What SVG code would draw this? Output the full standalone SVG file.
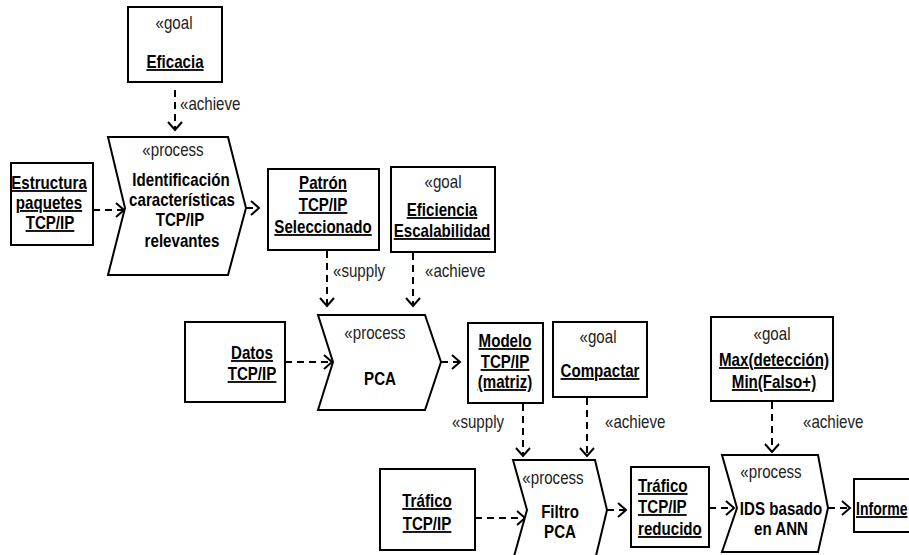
<svg xmlns="http://www.w3.org/2000/svg" width="909" height="555" viewBox="0 0 909 555">
<defs>
<style>
.box{fill:#fff;stroke:#000;stroke-width:2}
.proc{fill:#fff;stroke:#000;stroke-width:2;stroke-linejoin:miter}
text{font-family:"Liberation Sans",Arial,sans-serif;font-size:18px;fill:#000}
.b{font-weight:bold;text-anchor:middle}
.u{text-decoration:underline}
.s{font-weight:normal;fill:#222}
.m{text-anchor:middle}
.st{text-anchor:start}
.c{fill:none;stroke:#000;stroke-width:2;stroke-dasharray:7,5}
</style>
<marker id="ah" markerUnits="userSpaceOnUse" markerWidth="20" markerHeight="20" refX="10" refY="10" orient="auto">
<path d="M2,3 L10,10 L2,17" fill="none" stroke="#000" stroke-width="2"/>
</marker>
</defs>
<rect width="909" height="555" fill="#fff"/>

<g id="connectors">
<path class="c" d="M175,90 V130" marker-end="url(#ah)"/>
<path class="c" d="M93,210 H124" marker-end="url(#ah)"/>
<path class="c" d="M246,208 H259" marker-end="url(#ah)"/>
<path class="c" d="M327,251 V306" marker-end="url(#ah)"/>
<path class="c" d="M413,253 V306" marker-end="url(#ah)"/>
<path class="c" d="M285,362 H332" marker-end="url(#ah)"/>
<path class="c" d="M441,362 H460" marker-end="url(#ah)"/>
<path class="c" d="M523,404 V456" marker-end="url(#ah)"/>
<path class="c" d="M587,398 V456" marker-end="url(#ah)"/>
<path class="c" d="M475,518 H525" marker-end="url(#ah)"/>
<path class="c" d="M607,510 H626" marker-end="url(#ah)"/>
<path class="c" d="M709,508 H734" marker-end="url(#ah)"/>
<path class="c" d="M772,402 V452" marker-end="url(#ah)"/>
<path class="c" d="M828,508 H850" marker-end="url(#ah)"/>
<text class="s" transform="translate(180 110) scale(.84 1)">«achieve</text>
<text class="s" transform="translate(333 277) scale(.84 1)">«supply</text>
<text class="s" transform="translate(425 277) scale(.84 1)">«achieve</text>
<text class="s" transform="translate(452 428) scale(.84 1)">«supply</text>
<text class="s" transform="translate(605 428) scale(.84 1)">«achieve</text>
<text class="s" transform="translate(803 428) scale(.84 1)">«achieve</text>
</g>

<g id="eficacia">
<rect class="box" x="128" y="7" width="94" height="75"/>
<text class="s m" transform="translate(174 29) scale(.84 1)">«goal</text>
<text class="b u" transform="translate(175 68) scale(.84 1)">Eficacia</text>
</g>

<g id="estructura">
<rect class="box" x="11" y="163" width="82" height="82"/>
<text class="b u" transform="translate(49 189) scale(.84 1)">Estructura</text>
<text class="b u" transform="translate(49 209) scale(.84 1)">paquetes</text>
<text class="b u" transform="translate(50 229) scale(.84 1)">TCP/IP</text>
</g>

<g id="identificacion">
<polygon class="proc" points="108,137 228,137 246,208 228,275 108,275 125,208"/>
<text class="s m" transform="translate(173 156) scale(.84 1)">«process</text>
<text class="b" transform="translate(181 186) scale(.84 1)">Identificación</text>
<text class="b" transform="translate(182 206) scale(.84 1)">características</text>
<text class="b" transform="translate(180 226) scale(.84 1)">TCP/IP</text>
<text class="b" transform="translate(182 247) scale(.84 1)">relevantes</text>
</g>

<g id="patron">
<rect class="box" x="268" y="169" width="111" height="81"/>
<text class="b u" transform="translate(323 189) scale(.84 1)">Patrón</text>
<text class="b u" transform="translate(323 211) scale(.84 1)">TCP/IP</text>
<text class="b u" transform="translate(323 233) scale(.84 1)">Seleccionado</text>
</g>

<g id="eficiencia">
<rect class="box" x="391" y="167" width="104" height="85"/>
<text class="s m" transform="translate(443 188) scale(.84 1)">«goal</text>
<text class="b u" transform="translate(442 216) scale(.84 1)">Eficiencia</text>
<text class="b u" transform="translate(442 237) scale(.84 1)">Escalabilidad</text>
</g>

<g id="datos">
<rect class="box" x="185" y="322" width="100" height="80"/>
<text class="b u" transform="translate(252 359) scale(.84 1)">Datos</text>
<text class="b u" transform="translate(252 380) scale(.84 1)">TCP/IP</text>
</g>

<g id="pca">
<polygon class="proc" points="318,315 425,315 441,362 425,410 318,410 333,362"/>
<text class="s m" transform="translate(375 339) scale(.84 1)">«process</text>
<text class="b" transform="translate(380 385) scale(.84 1)">PCA</text>
</g>

<g id="modelo">
<rect class="box" x="468" y="323" width="75" height="80"/>
<text class="b u" transform="translate(505 347) scale(.84 1)">Modelo</text>
<text class="b u" transform="translate(505 368) scale(.84 1)">TCP/IP</text>
<text class="b u" transform="translate(505 388) scale(.84 1)">(matriz)</text>
</g>

<g id="compactar">
<rect class="box" x="553" y="322" width="94" height="75"/>
<text class="s m" transform="translate(598 343) scale(.84 1)">«goal</text>
<text class="b u" transform="translate(600 377) scale(.84 1)">Compactar</text>
</g>

<g id="max">
<rect class="box" x="711" y="317" width="122" height="84"/>
<text class="s m" transform="translate(772 340) scale(.84 1)">«goal</text>
<text class="b u" transform="translate(774 366) scale(.84 1)">Max(detección)</text>
<text class="b u" transform="translate(774 388) scale(.84 1)">Min(Falso+)</text>
</g>

<g id="trafico">
<rect class="box" x="380" y="469" width="95" height="81"/>
<text class="b u" transform="translate(427 507) scale(.84 1)">Tráfico</text>
<text class="b u" transform="translate(427 530) scale(.84 1)">TCP/IP</text>
</g>

<g id="filtro">
<polygon class="proc" points="513,460 595,460 607,510 595,560 513,560 527,510"/>
<text class="s m" transform="translate(553 484) scale(.84 1)">«process</text>
<text class="b" transform="translate(560 518) scale(.84 1)">Filtro</text>
<text class="b" transform="translate(560 538) scale(.84 1)">PCA</text>
</g>

<g id="reducido">
<rect class="box" x="631" y="467" width="78" height="80"/>
<text class="b u st" transform="translate(638 492) scale(.84 1)">Tráfico</text>
<text class="b u st" transform="translate(638 513) scale(.84 1)">TCP/IP</text>
<text class="b u st" transform="translate(638 535) scale(.84 1)">reducido</text>
</g>

<g id="ids">
<polygon class="proc" points="722,455 818,455 828,508 818,552 722,552 737,508"/>
<text class="s m" transform="translate(771 478) scale(.84 1)">«process</text>
<text class="b" transform="translate(781 515) scale(.84 1)">IDS basado</text>
<text class="b" transform="translate(781 535) scale(.84 1)">en ANN</text>
</g>

<g id="informe">
<rect class="box" x="854" y="479" width="80" height="53"/>
<text class="b u st" transform="translate(856 515) scale(.78 1)">Informe</text>
</g>
</svg>
